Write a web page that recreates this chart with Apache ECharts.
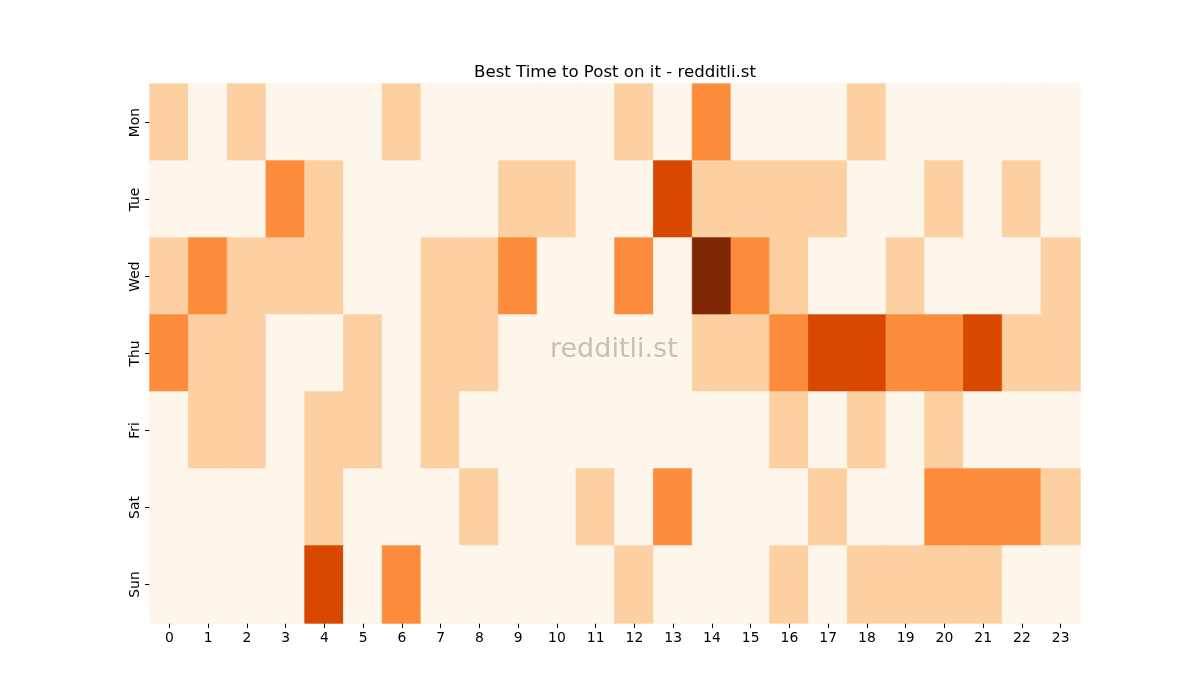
<!DOCTYPE html>
<html><head><meta charset="utf-8">
<script src="https://cdn.jsdelivr.net/npm/echarts@6/dist/echarts.min.js"></script>
<style>html,body{margin:0;padding:0;background:#fff}#c{width:1200px;height:700px}</style>
</head><body><div id="c"></div>
<script>
const hours = ["0","1","2","3","4","5","6","7","8","9","10","11","12","13","14","15","16","17","18","19","20","21","22","23"];
const days = ["Mon","Tue","Wed","Thu","Fri","Sat","Sun"];
const mon = [1,0,1,0,0,0,1,0,0,0,0,0,1,0,2,0,0,0,1,0,0,0,0,0];
const tue = [0,0,0,2,1,0,0,0,0,1,1,0,0,3,1,1,1,1,0,0,1,0,1,0];
const wed = [1,2,1,1,1,0,0,1,1,2,0,0,2,0,4,2,1,0,0,1,0,0,0,1];
const thu = [2,1,1,0,0,1,0,1,1,0,0,0,0,0,1,1,2,3,3,2,2,3,1,1];
const fri = [0,1,1,0,1,1,0,1,0,0,0,0,0,0,0,0,1,0,1,0,1,0,0,0];
const sat = [0,0,0,0,1,0,0,0,1,0,0,1,0,2,0,0,0,1,0,0,2,2,2,1];
const sun = [0,0,0,0,3,0,2,0,0,0,0,0,1,0,0,0,1,0,1,1,1,1,0,0];
const rows = [mon,tue,wed,thu,fri,sat,sun];
const levelColors = ["#fef5eb","#fdd0a2","#fd8d3c","#d94801","#7f2704"];

const data = [];
rows.forEach((r, yi) => r.forEach((v, xi) => data.push({
  value: [xi, yi, v],
  itemStyle: {color: levelColors[v], borderColor: levelColors[v], borderWidth: 0.8}
})));

const chart = echarts.init(document.getElementById('c'), null, {renderer:'canvas'});
const font = 'DejaVu Sans';
chart.setOption({
  animation: false,
  backgroundColor: '#fff',
  title: {text: 'Best Time to Post on it - redditli.st', left: 610, textAlign: 'center', top: 59,
    textStyle: {fontFamily: font, fontSize: 16.6, fontWeight: 'normal', color: '#000'}},
  grid: {left: 150, right: 120, top: 84, bottom: 77},
  xAxis: {type: 'category', data: hours,
    axisLine: {show: false}, splitLine: {show: false},
    axisTick: {show: true, alignWithLabel: true, length: 5, lineStyle: {color: '#000'}},
    axisLabel: {fontFamily: font, fontSize: 13.9, color: '#000', margin: 8}},
  yAxis: {type: 'category', data: days, inverse: true,
    axisLine: {show: false}, splitLine: {show: false},
    axisTick: {show: true, alignWithLabel: true, length: 5, lineStyle: {color: '#000'}},
    axisLabel: {fontFamily: font, fontSize: 13.9, color: '#000', rotate: 90, margin: 8}},
  series: [{type: 'heatmap', data: data, emphasis: {disabled: true}}],
  graphic: [{type: 'text', left: 550, top: 336, z: 100,
    style: {text: 'redditli.st', fontFamily: font, fontSize: 27, fill: 'rgba(128,128,128,0.45)'}}]
});
</script></body></html>
